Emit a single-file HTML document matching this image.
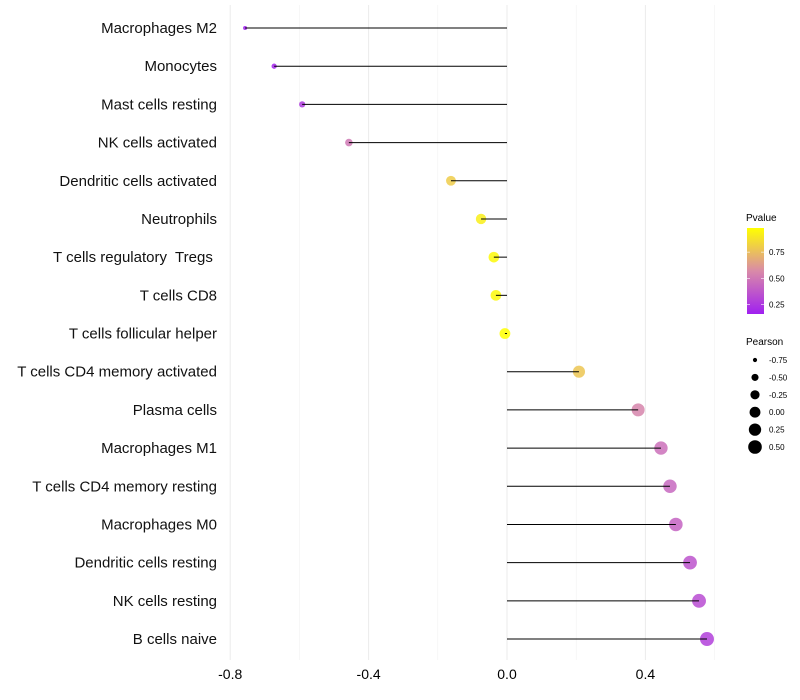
<!DOCTYPE html>
<html><head><meta charset="utf-8"><style>
body{margin:0;background:#fff}
svg{display:block;font-family:"Liberation Sans",Arial,sans-serif}
text{white-space:pre}
</style></head><body>
<svg id="chart" width="800" height="700"></svg>
<script>
const categories=["Macrophages M2","Monocytes","Mast cells resting","NK cells activated","Dendritic cells activated","Neutrophils","T cells regulatory  Tregs ","T cells CD8","T cells follicular helper","T cells CD4 memory activated","Plasma cells","Macrophages M1","T cells CD4 memory resting","Macrophages M0","Dendritic cells resting","NK cells resting","B cells naive"];
const pearson=[-0.757,-0.673,-0.592,-0.457,-0.162,-0.075,-0.038,-0.032,-0.006,0.208,0.379,0.445,0.471,0.488,0.529,0.555,0.578];
const pvalue=[0.16,0.18,0.26,0.5,0.8,0.92,0.96,0.96,0.98,0.78,0.55,0.47,0.44,0.42,0.36,0.33,0.28];
const xTicks=[-0.8,-0.4,0.0,0.4];
const xTickLabels=["-0.8","-0.4","0.0","0.4"];
const xMinor=[-0.6,-0.2,0.2,0.6];
const pvTicks=[0.25,0.5,0.75];
const pvTickLabels=["0.25","0.50","0.75"];
const sizeBreaks=[-0.75,-0.5,-0.25,0,0.25,0.5];
const sizeLabels=["-0.75","-0.50","-0.25","0.00","0.25","0.50"];

const NS="http://www.w3.org/2000/svg";
const svg=document.getElementById('chart');
function mk(t,a,p){const e=document.createElementNS(NS,t);for(const k in a)e.setAttribute(k,a[k]);(p||svg).appendChild(e);return e;}
const X=v=>507+v*346;
const Y=i=>28+i*38.19;
const R=v=>Math.sqrt(Math.max(1,4+(v+0.76)*33.6));
const pMin=0.16,pMax=0.98;
function col(p){let t=(p-pMin)/(pMax-pMin);t=Math.max(0,Math.min(1,t));
 const s=[[160,32,240],[217,138,168],[255,255,0]];
 let a,b,u;if(t<0.5){a=s[0];b=s[1];u=t/0.5}else{a=s[1];b=s[2];u=(t-0.5)/0.5}
 return `rgb(${a.map((c,i)=>Math.round(c+(b[i]-c)*u)).join(',')})`;}

xMinor.forEach(v=>{const l=mk('line',{x1:X(v),x2:X(v),y1:5,y2:660,stroke:'#f2f2f2','stroke-width':0.6});
});
xTicks.forEach((v,i)=>{const l=mk('line',{x1:X(v),x2:X(v),y1:5,y2:660,stroke:'#ebebeb','stroke-width':1});

const t=mk('text',{x:X(v),y:679,'text-anchor':'middle','font-size':14,fill:'#000'});t.textContent=xTickLabels[i];
});
categories.forEach((c,i)=>{const t=mk('text',{x:217,y:Y(i)+5,'text-anchor':'end','font-size':15,fill:'#111'});t.textContent=c;
});
categories.forEach((c,i)=>{
 const cx=X(pearson[i]);
 const d=mk('circle',{cx:cx,cy:Y(i),r:R(pearson[i]),fill:col(pvalue[i]),'fill-opacity':0.85});
 
 const l=mk('line',{x1:X(0),x2:cx,y1:Y(i),y2:Y(i),stroke:'#000','stroke-width':1});
 
});
const g=mk('g',{});
let t=mk('text',{x:746,y:221,'font-size':10},g);t.textContent='Pvalue';
const defs=mk('defs',{},g);const lg=mk('linearGradient',{id:'pg',x1:0,y1:1,x2:0,y2:0},defs);
[0,0.25,0.5,0.75,1].forEach(f=>mk('stop',{offset:f,'stop-color':col(pMin+f*(pMax-pMin))},lg));
const bar=mk('rect',{x:747,y:228,width:17,height:86,fill:'url(#pg)'},g);

const PY=v=>314-(v-pMin)/(pMax-pMin)*86;
pvTicks.forEach((v,i)=>{mk('line',{x1:747,x2:750,y1:PY(v),y2:PY(v),stroke:'#fff','stroke-width':0.6},g);mk('line',{x1:761,x2:764,y1:PY(v),y2:PY(v),stroke:'#fff','stroke-width':0.6},g);
 const tt=mk('text',{x:769,y:PY(v)+3,'font-size':8},g);tt.textContent=pvTickLabels[i];
 });
t=mk('text',{x:746,y:345,'font-size':10},g);t.textContent='Pearson';
sizeBreaks.forEach((v,i)=>{const y=360+i*17.4;
 const c=mk('circle',{cx:755,cy:y,r:R(v),fill:'#000'},g);
 const tt=mk('text',{x:769,y:y+3,'font-size':8},g);tt.textContent=sizeLabels[i];
 });
</script>
</body></html>
